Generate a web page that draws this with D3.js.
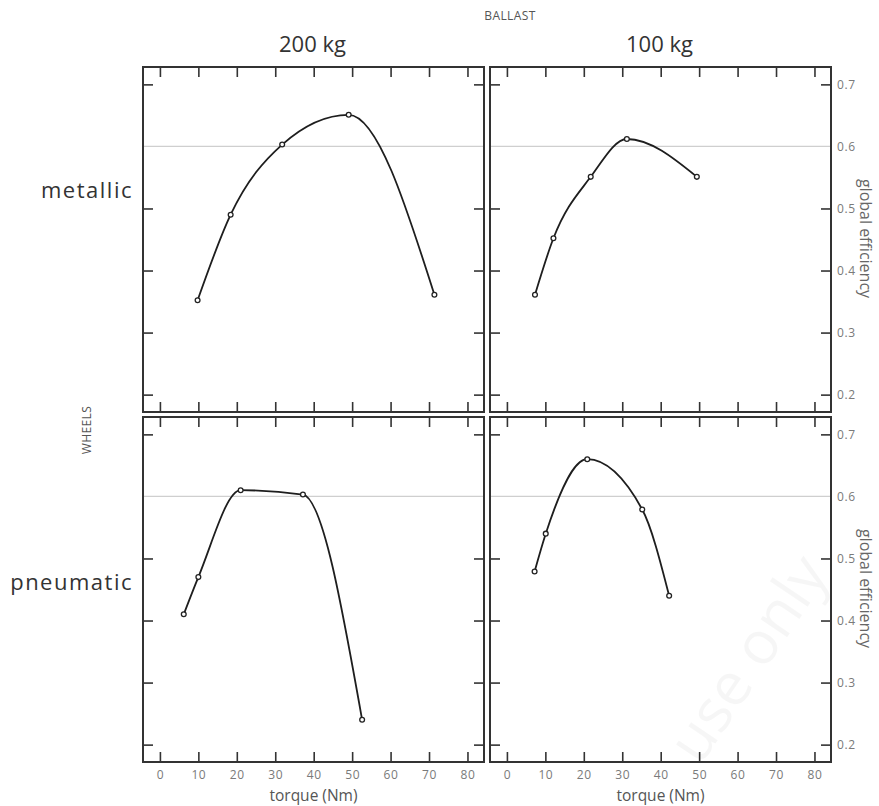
<!DOCTYPE html>
<html>
<head>
<meta charset="utf-8">
<script src="https://cdn.jsdelivr.net/npm/d3@7"></script>
<style>
  body { margin: 0; background: #fff; }
  text { font-family: "Open Sans", sans-serif; }
</style>
</head>
<body>
<svg id="chart" width="879" height="806"></svg>
<script>
// ---- data ----
const ballast = ["200 kg", "100 kg"];
const wheels = ["metallic", "pneumatic"];
const xTicks = [0, 10, 20, 30, 40, 50, 60, 70, 80];
const yTicks = [0.2, 0.3, 0.4, 0.5, 0.6, 0.7];
const refLine = 0.6;

const torqueMetallic200 = [9.8, 18.4, 31.8, 49.1, 71.4];
const effMetallic200 = [0.352, 0.49, 0.603, 0.651, 0.361];
const torqueMetallic100 = [7.3, 12.1, 21.8, 31.2, 49.4];
const effMetallic100 = [0.361, 0.452, 0.551, 0.612, 0.551];
const torquePneumatic200 = [6.2, 10.0, 21.0, 37.2, 52.6];
const effPneumatic200 = [0.41, 0.47, 0.61, 0.603, 0.24];
const torquePneumatic100 = [7.2, 10.1, 20.9, 35.2, 42.2];
const effPneumatic100 = [0.479, 0.54, 0.66, 0.579, 0.44];

const panels = [
  { row: 0, col: 0, x: torqueMetallic200, y: effMetallic200 },
  { row: 0, col: 1, x: torqueMetallic100, y: effMetallic100 },
  { row: 1, col: 0, x: torquePneumatic200, y: effPneumatic200 },
  { row: 1, col: 1, x: torquePneumatic100, y: effPneumatic100 },
];

// ---- layout ----
const svg = d3.select("#chart");
const colX = [143, 490];
const rowY = [67, 417];
const pw = 341, ph = 345;
const tickLen = 10;
const dark = "#333";

const xScale = d3.scaleLinear().domain([-4.4, 84.3]).range([0, pw]);
const yScale = d3.scaleLinear().domain([0.172, 0.728]).range([ph, 0]);

const lineGen = d3.line()
  .x((d) => xScale(d[0]))
  .y((d) => yScale(d[1]))
  .curve(d3.curveMonotoneX);

const styleAxis = (sel) => {
  sel.select(".domain").remove();
  sel.selectAll(".tick line").attr("stroke", dark).attr("stroke-width", 1.6);
  sel.selectAll(".tick text")
    .attr("fill", "#7a7a7a")
    .attr("font-size", 12)
    .attr("letter-spacing", 0.6);
};

panels.forEach((p) => {
  const g = svg.append("g")
    .attr("transform", `translate(${colX[p.col]},${rowY[p.row]})`);

  // reference line at 0.6
  g.append("line")
    .attr("x1", 0).attr("x2", pw)
    .attr("y1", yScale(refLine)).attr("y2", yScale(refLine))
    .attr("stroke", "#cfcfcf").attr("stroke-width", 1.3);

  // inward ticks on all four sides
  const showX = p.row === 1;
  const showY = p.col === 1;
  g.append("g")
    .call(d3.axisTop(xScale).tickValues(xTicks).tickSize(-tickLen).tickFormat(""))
    .call(styleAxis);
  g.append("g")
    .attr("transform", `translate(0,${ph})`)
    .call(d3.axisBottom(xScale).tickValues(xTicks).tickSize(-tickLen)
      .tickPadding(8).tickFormat(showX ? d3.format("d") : ""))
    .call(styleAxis);
  g.append("g")
    .call(d3.axisLeft(yScale).tickValues(yTicks).tickSize(-tickLen).tickFormat(""))
    .call(styleAxis);
  g.append("g")
    .attr("transform", `translate(${pw},0)`)
    .call(d3.axisRight(yScale).tickValues(yTicks).tickSize(-tickLen)
      .tickPadding(6).tickFormat(showY ? d3.format(".1f") : ""))
    .call(styleAxis);
  // no tick mark on the reference value
  g.selectAll(".tick").filter((d) => d === refLine).select("line").remove();

  // frame
  g.append("rect")
    .attr("width", pw).attr("height", ph)
    .attr("fill", "none")
    .attr("stroke", dark).attr("stroke-width", 2);

  const pts = d3.zip(p.x, p.y);
  g.append("path")
    .attr("d", lineGen(pts))
    .attr("fill", "none")
    .attr("stroke", "#1e1e1e")
    .attr("stroke-width", 1.8);

  g.selectAll("circle")
    .data(pts)
    .join("circle")
    .attr("cx", (d) => xScale(d[0]))
    .attr("cy", (d) => yScale(d[1]))
    .attr("r", 2.4)
    .attr("fill", "#fff")
    .attr("stroke", "#222")
    .attr("stroke-width", 1.3);

  if (showX) {
    g.append("text")
      .attr("x", pw / 2).attr("y", ph + 39)
      .attr("text-anchor", "middle")
      .attr("font-size", 15.5)
      .attr("fill", "#555")
      .text("torque (Nm)");
  }
  if (showY) {
    g.append("text")
      .attr("transform", `translate(${pw + 29},${ph / 2 - 1}) rotate(90)`)
      .attr("text-anchor", "middle")
      .attr("font-size", 16)
      .attr("fill", "#666")
      .text("global efficiency");
  }
});

// column headers
svg.append("text")
  .attr("x", 510).attr("y", 20)
  .attr("text-anchor", "middle")
  .attr("font-size", 12)
  .attr("letter-spacing", 0.4)
  .attr("fill", "#555")
  .text("BALLAST");

ballast.forEach((b, i) => {
  svg.append("text")
    .attr("x", colX[i] + pw / 2 - 1).attr("y", 52)
    .attr("text-anchor", "middle")
    .attr("font-size", 22)
    .attr("fill", "#333")
    .text(b);
});

// row headers
const rowLabelY = [198, 590];
wheels.forEach((w, i) => {
  svg.append("text")
    .attr("x", 133).attr("y", rowLabelY[i])
    .attr("text-anchor", "end")
    .attr("font-size", 22)
    .attr("letter-spacing", 1.5)
    .attr("fill", "#333")
    .text(w);
});

svg.append("text")
  .attr("transform", "translate(91,430) rotate(-90)")
  .attr("text-anchor", "middle")
  .attr("font-size", 12)
  .attr("letter-spacing", 0.4)
  .attr("fill", "#555")
  .text("WHEELS");

// faint watermark on top
svg.append("text")
  .attr("transform", "translate(765,670) rotate(-56)")
  .attr("text-anchor", "middle")
  .attr("font-size", 60)
  .attr("fill", "#000")
  .attr("fill-opacity", 0.035)
  .text("use only");
</script>
</body>
</html>
